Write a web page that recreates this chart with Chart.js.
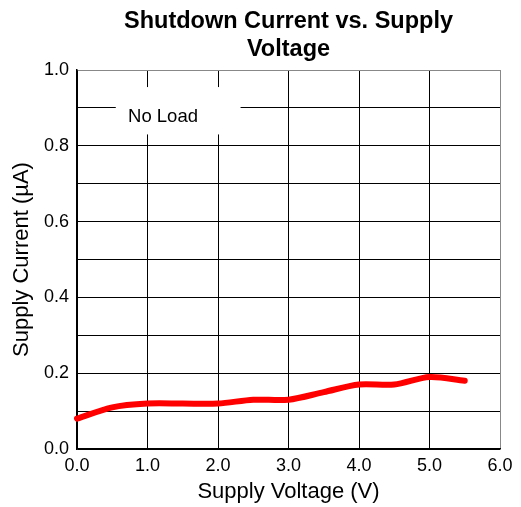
<!DOCTYPE html>
<html>
<head>
<meta charset="utf-8">
<script src="https://cdn.jsdelivr.net/npm/chart.js@4/dist/chart.umd.min.js"></script>
<style>
  html, body { margin: 0; padding: 0; background: #fff; }
  #wrap { width: 521px; height: 507px; position: relative; }
</style>
</head>
<body>
<div id="wrap"><canvas id="c" width="521" height="507"></canvas></div>
<script>
// ---- data ----
const supplyVoltage = [0.0, 0.5, 1.0, 1.5, 2.0, 2.5, 3.0, 3.5, 4.0, 4.5, 5.0, 5.5];
const supplyCurrent = [0.08, 0.11, 0.12, 0.12, 0.12, 0.13, 0.13, 0.15, 0.17, 0.17, 0.19, 0.18];
const titleLines = ['Shutdown Current vs. Supply', 'Voltage'];
const xAxisTitle = 'Supply Voltage (V)';
const yAxisTitle = 'Supply Current (\u00B5A)';
const noteText = 'No Load';

const FONT = 'Liberation Sans, Arial, Helvetica, sans-serif';

const titlePlugin = {
  id: 'customTitle',
  afterDraw(chart) {
    const ctx = chart.ctx;
    const ca = chart.chartArea;
    const cx = (ca.left + ca.right) / 2;
    ctx.save();
    ctx.fillStyle = '#000';
    ctx.font = 'bold 23.5px ' + FONT;
    ctx.textAlign = 'center';
    ctx.textBaseline = 'middle';
    ctx.fillText(titleLines[0], cx, 22);
    ctx.fillText(titleLines[1], cx, 50);
    ctx.restore();
  }
};

const notePlugin = {
  id: 'noteBox',
  beforeDatasetsDraw(chart) {
    const ctx = chart.ctx;
    const x = chart.scales.x, y = chart.scales.y;
    const x0 = x.getPixelForValue(0.55), x1 = x.getPixelForValue(2.32);
    const y0 = y.getPixelForValue(0.955), y1 = y.getPixelForValue(0.83);
    ctx.save();
    ctx.fillStyle = '#fff';
    ctx.fillRect(x0, y0, x1 - x0, y1 - y0);
    ctx.fillStyle = '#000';
    ctx.font = '18.5px ' + FONT;
    ctx.textAlign = 'center';
    ctx.textBaseline = 'middle';
    ctx.fillText(noteText, x.getPixelForValue(1.22), y.getPixelForValue(0.877));
    ctx.restore();
  }
};

new Chart(document.getElementById('c'), {
  type: 'line',
  data: {
    datasets: [{
      data: supplyVoltage.map((v, i) => ({ x: v, y: supplyCurrent[i] })),
      borderColor: '#ff0000',
      borderWidth: 6,
      borderCapStyle: 'round',
      borderJoinStyle: 'round',
      pointRadius: 0,
      tension: 0.3,
      fill: false,
      clip: false
    }]
  },
  options: {
    responsive: false,
    animation: false,
    devicePixelRatio: 1,
    layout: { padding: { top: 70, right: 21, left: 0, bottom: 0 } },
    plugins: { legend: { display: false }, tooltip: { enabled: false }, title: { display: false } },
    scales: {
      x: {
        type: 'linear',
        min: 0, max: 6,
        ticks: {
          stepSize: 1,
          color: '#000',
          font: { family: FONT, size: 18 },
          padding: 6,
          maxRotation: 0,
          callback: v => Number(v).toFixed(1)
        },
        grid: {
          color: ctx => (ctx.tick && ctx.tick.value === 6) ? '#888' : '#000',
          lineWidth: 1,
          drawTicks: false
        },
        border: { color: '#000', width: 1.5 },
        title: {
          display: true, text: xAxisTitle, color: '#000',
          font: { family: FONT, size: 22 },
          padding: { top: 0, bottom: 2 }
        },
        afterFit: s => { s.height = 58; }
      },
      y: {
        min: 0, max: 1,
        ticks: {
          stepSize: 0.1,
          color: '#000',
          font: { family: FONT, size: 18 },
          padding: 8,
          callback: v => (Math.round(v * 10) % 2 === 0) ? Number(v).toFixed(1) : ''
        },
        grid: {
          color: ctx => (ctx.tick && Math.abs(ctx.tick.value - 1) < 1e-9) ? '#888' : '#000',
          lineWidth: 1,
          drawTicks: false
        },
        border: { color: '#000', width: 1.5 },
        title: {
          display: true, text: yAxisTitle, color: '#000',
          font: { family: FONT, size: 22 },
          padding: { top: 9, bottom: 0 }
        },
        afterFit: s => { s.width = 77; }
      }
    }
  },
  plugins: [titlePlugin, notePlugin]
});
</script>
</body>
</html>
